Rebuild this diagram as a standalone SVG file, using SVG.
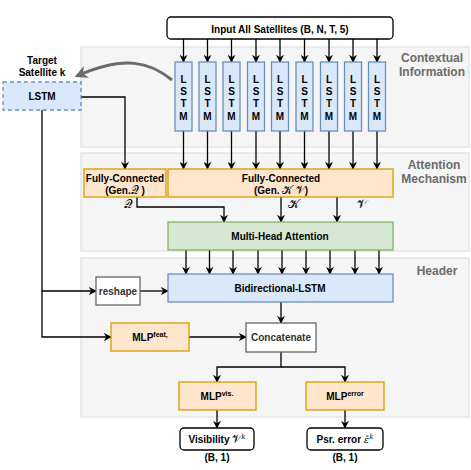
<svg xmlns="http://www.w3.org/2000/svg" width="471" height="470" viewBox="0 0 471 470">
<style>
text{font-family:"Liberation Sans",Arial,sans-serif;font-weight:bold;font-size:10px;fill:#000;text-anchor:middle}
.panel{fill:#f5f5f5;stroke:#dadada;stroke-width:1}
.plabel{font-size:12px;fill:#6b6b6b}
.blue{fill:#dae8fc;stroke:#6c8ebf;stroke-width:1.3}
.orange{fill:#ffe6cc;stroke:#d79b00;stroke-width:1.3}
.green{fill:#d5e8d4;stroke:#82b366;stroke-width:1.3}
.gray{fill:#fff;stroke:#666;stroke-width:1.3}
.io{fill:#fff;stroke:#000;stroke-width:1.3}
.gt{fill:#333}
.math{font-family:"DejaVu Sans","Noto Sans",serif;font-weight:normal;font-size:12px}
.im{font-size:10.5px}
.mi{font-family:"DejaVu Serif",serif;font-style:italic;font-weight:normal}
.c{fill:none;stroke:#000;stroke-width:1.3}
.sup{font-size:7px}
</style>
<defs>
<marker id="a" viewBox="0 0 10 10" refX="9" refY="5" markerWidth="8" markerHeight="8" markerUnits="userSpaceOnUse" orient="auto">
<path d="M0,0 L10,5 L0,10 L3,5 z" fill="#000"/>
</marker>
<marker id="g" viewBox="0 0 10 10" refX="8" refY="5" markerWidth="13" markerHeight="13" markerUnits="userSpaceOnUse" orient="auto">
<path d="M0,0 L10,5 L0,10 L3,5 z" fill="#6b6b6b"/>
</marker>
</defs>

<g id="panels">
<rect class="panel" x="81" y="47" width="388" height="100"/>
<rect class="panel" x="81" y="153" width="388" height="98"/>
<rect class="panel" x="81" y="258" width="388" height="159"/>
<text class="plabel" x="432" y="62">Contextual</text>
<text class="plabel" x="432" y="76">Information</text>
<text class="plabel" x="434" y="169">Attention</text>
<text class="plabel" x="434" y="183">Mechanism</text>
<text class="plabel" x="437" y="275">Header</text>
</g>

<g id="connectors">
<path d="M172,80 C150,62 125,55 77,76" fill="none" stroke="#6b6b6b" stroke-width="3" marker-end="url(#g)"/>
<path class="c" marker-end="url(#a)" d="M183.5,39V62"/>
<path class="c" marker-end="url(#a)" d="M207.5,39V62"/>
<path class="c" marker-end="url(#a)" d="M231.5,39V62"/>
<path class="c" marker-end="url(#a)" d="M256,39V62"/>
<path class="c" marker-end="url(#a)" d="M280,39V62"/>
<path class="c" marker-end="url(#a)" d="M304.5,39V62"/>
<path class="c" marker-end="url(#a)" d="M329,39V62"/>
<path class="c" marker-end="url(#a)" d="M353,39V62"/>
<path class="c" marker-end="url(#a)" d="M377,39V62"/>
<path class="c" marker-end="url(#a)" d="M183.5,131V169"/>
<path class="c" marker-end="url(#a)" d="M207.5,131V169"/>
<path class="c" marker-end="url(#a)" d="M231.5,131V169"/>
<path class="c" marker-end="url(#a)" d="M256,131V169"/>
<path class="c" marker-end="url(#a)" d="M280,131V169"/>
<path class="c" marker-end="url(#a)" d="M304.5,131V169"/>
<path class="c" marker-end="url(#a)" d="M329,131V169"/>
<path class="c" marker-end="url(#a)" d="M353,131V169"/>
<path class="c" marker-end="url(#a)" d="M377,131V169"/>
<path class="c" marker-end="url(#a)" d="M81,97H125V169"/>
<path class="c" marker-end="url(#a)" d="M137,197V207H224V222"/>
<path class="c" marker-end="url(#a)" d="M281,197V222"/>
<path class="c" marker-end="url(#a)" d="M337,197V222"/>
<path class="c" marker-end="url(#a)" d="M186,250V274"/>
<path class="c" marker-end="url(#a)" d="M209.5,250V274"/>
<path class="c" marker-end="url(#a)" d="M233,250V274"/>
<path class="c" marker-end="url(#a)" d="M258,250V274"/>
<path class="c" marker-end="url(#a)" d="M282,250V274"/>
<path class="c" marker-end="url(#a)" d="M306,250V274"/>
<path class="c" marker-end="url(#a)" d="M330,250V274"/>
<path class="c" marker-end="url(#a)" d="M355,250V274"/>
<path class="c" marker-end="url(#a)" d="M379,250V274"/>
<path class="c" marker-end="url(#a)" d="M42,110V291H96"/>
<path class="c" marker-end="url(#a)" d="M42,291V337H111"/>
<path class="c" marker-end="url(#a)" d="M140,291H168"/>
<path class="c" marker-end="url(#a)" d="M281,302V323"/>
<path class="c" marker-end="url(#a)" d="M189,337H246"/>
<path class="c" marker-end="url(#a)" d="M281,352V367H217V382"/>
<path class="c" marker-end="url(#a)" d="M281,367H345V382"/>
<path class="c" marker-end="url(#a)" d="M217,410V428"/>
<path class="c" marker-end="url(#a)" d="M345,410V428"/>
</g>

<g id="input">
<rect class="io" x="167" y="17" width="226" height="22" rx="4"/>
<text x="280" y="33">Input All Satellites (B, N, T, 5)</text>
</g>

<g id="lstm-columns">
<g id="lstm1"><rect class="blue" x="175" y="62" width="17" height="69"/><text x="183.5" y="83">L</text><text x="183.5" y="95">S</text><text x="183.5" y="107">T</text><text x="183.5" y="120">M</text></g>
<g id="lstm2"><rect class="blue" x="199" y="62" width="17" height="69"/><text x="207.5" y="83">L</text><text x="207.5" y="95">S</text><text x="207.5" y="107">T</text><text x="207.5" y="120">M</text></g>
<g id="lstm3"><rect class="blue" x="223" y="62" width="17" height="69"/><text x="231.5" y="83">L</text><text x="231.5" y="95">S</text><text x="231.5" y="107">T</text><text x="231.5" y="120">M</text></g>
<g id="lstm4"><rect class="blue" x="247.5" y="62" width="17" height="69"/><text x="256" y="83">L</text><text x="256" y="95">S</text><text x="256" y="107">T</text><text x="256" y="120">M</text></g>
<g id="lstm5"><rect class="blue" x="271.5" y="62" width="17" height="69"/><text x="280" y="83">L</text><text x="280" y="95">S</text><text x="280" y="107">T</text><text x="280" y="120">M</text></g>
<g id="lstm6"><rect class="blue" x="296" y="62" width="17" height="69"/><text x="304.5" y="83">L</text><text x="304.5" y="95">S</text><text x="304.5" y="107">T</text><text x="304.5" y="120">M</text></g>
<g id="lstm7"><rect class="blue" x="320.5" y="62" width="17" height="69"/><text x="329" y="83">L</text><text x="329" y="95">S</text><text x="329" y="107">T</text><text x="329" y="120">M</text></g>
<g id="lstm8"><rect class="blue" x="344.5" y="62" width="17" height="69"/><text x="353" y="83">L</text><text x="353" y="95">S</text><text x="353" y="107">T</text><text x="353" y="120">M</text></g>
<g id="lstm9"><rect class="blue" x="368.5" y="62" width="17" height="69"/><text x="377" y="83">L</text><text x="377" y="95">S</text><text x="377" y="107">T</text><text x="377" y="120">M</text></g>
</g>

<g id="target">
<text x="42" y="64">Target</text>
<text x="42" y="76">Satellite k</text>
<rect class="blue" x="3" y="82" width="78" height="28" stroke-dasharray="4,3"/>
<text x="42" y="100">LSTM</text>
</g>

<g id="fc-q">
<rect class="orange" x="84" y="169" width="82" height="28"/>
<text x="125" y="182">Fully-Connected</text>
<text x="125" y="194">(Gen.<tspan class="math im">𝒬</tspan> )</text>
</g>
<text class="math" x="128" y="208">𝒬</text>

<g id="fc-kv">
<rect class="orange" x="168" y="169" width="225" height="28"/>
<text x="281" y="182">Fully-Connected</text>
<text x="281" y="194">(Gen. <tspan class="math im">𝒦 𝒱</tspan>)</text>
</g>
<text class="math" x="293" y="208">𝒦</text>
<text class="math" x="362" y="208">𝒱</text>

<g id="mha">
<rect class="green" x="168" y="222" width="225" height="28"/>
<text x="280" y="240">Multi-Head Attention</text>
</g>

<g id="reshape">
<rect class="gray" x="96" y="277" width="44" height="28"/>
<text class="gt" x="118" y="295">reshape</text>
</g>

<g id="bilstm">
<rect class="blue" x="168" y="274" width="225" height="28"/>
<text x="280" y="292">Bidirectional-LSTM</text>
</g>

<g id="mlp-feat">
<rect class="orange" x="111" y="323" width="78" height="28"/>
<text x="150" y="341">MLP<tspan class="sup" dy="-4">feat,</tspan></text>
</g>

<g id="concat">
<rect class="gray" x="246" y="323" width="70" height="29"/>
<text class="gt" x="281" y="341">Concatenate</text>
</g>

<g id="mlp-vis">
<rect class="orange" x="179" y="382" width="77" height="28"/>
<text x="217" y="400">MLP<tspan class="sup" dy="-4">vis.</tspan></text>
</g>

<g id="mlp-error">
<rect class="orange" x="306" y="382" width="78" height="28"/>
<text x="345" y="400">MLP<tspan class="sup" dy="-4">error</tspan></text>
</g>

<g id="visibility">
<rect class="io" x="180" y="428" width="74" height="22" rx="4"/>
<text x="217" y="443">Visibility <tspan class="math im">𝒱</tspan><tspan class="mi sup" dy="-4">k</tspan></text>
<text x="217" y="461">(B, 1)</text>
</g>

<g id="psr-error">
<rect class="io" x="307" y="428" width="76" height="22" rx="4"/>
<text x="345" y="443">Psr. error <tspan class="mi">ε̂</tspan><tspan class="mi sup" dy="-4">k</tspan></text>
<text x="345" y="461">(B, 1)</text>
</g>
</svg>
